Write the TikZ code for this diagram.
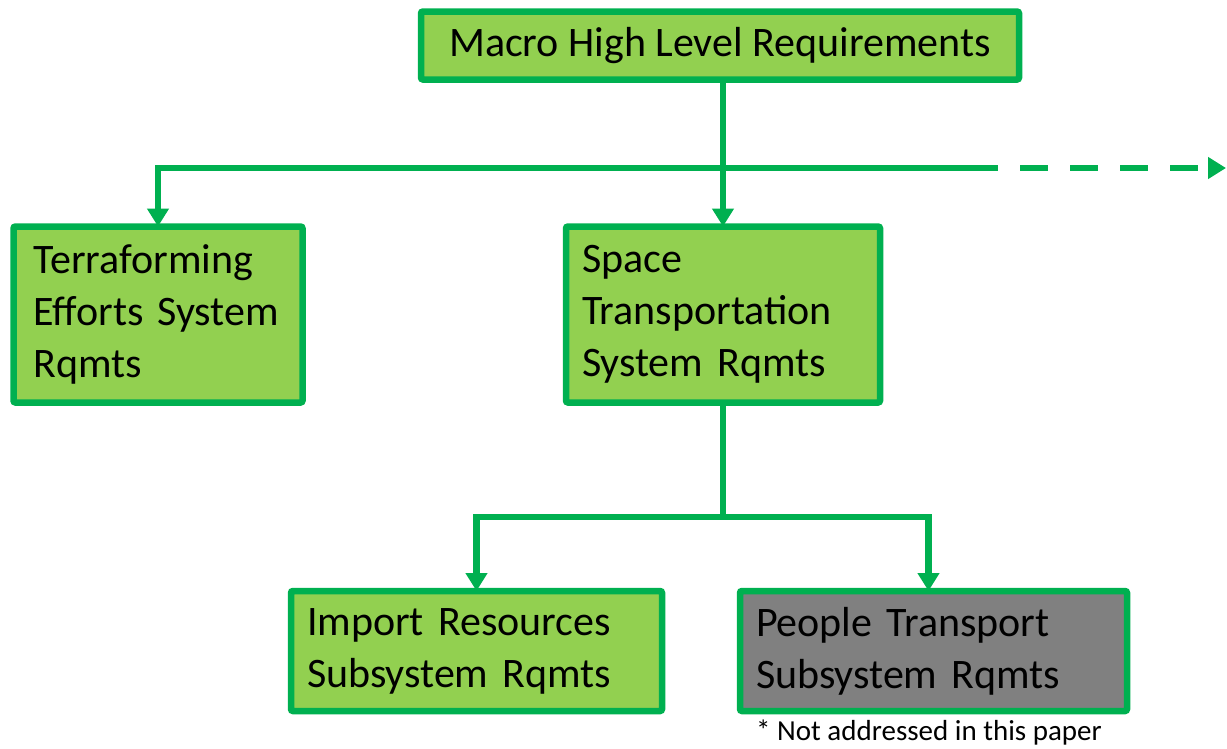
\documentclass[tikz,border=0pt]{standalone}
\usepackage{fontspec}
\setmainfont{Carlito}
\usetikzlibrary{arrows.meta}
\definecolor{edgegreen}{RGB}{0,176,80}
\definecolor{boxgreen}{RGB}{146,208,80}
\definecolor{boxgray}{RGB}{128,128,128}

\begin{document}
\begin{tikzpicture}[x=1pt,y=-1pt,
  reqbox/.style={draw=edgegreen, line width=6.5pt, fill=boxgreen, rounded corners=2pt,
    align=left, inner xsep=16pt, inner ysep=0pt, outer sep=0pt, anchor=north west,
    text=black, font=\fontsize{42}{52}\selectfont},
  link/.style={draw=edgegreen, line width=6.5pt},
  tip/.style={-{Triangle[length=18pt,width=21pt]}}
]
\useasboundingbox (0,0) rectangle (1227,748);

% requirement boxes
\node[reqbox, align=center, minimum width=598pt, minimum height=68pt] (top)
  at (421,11.5) {Macro High Level Requirements};
\node[reqbox, inner xsep=20pt, text width=249pt, minimum width=289pt, minimum height=176pt] (terra)
  at (13.5,226.5) {Terraforming\\Efforts~System\\Rqmts};
\node[reqbox, text width=282pt, minimum width=314pt, minimum height=176pt] (space)
  at (566,226.5) {Space\\Transportation\\System~Rqmts};
\node[reqbox, text width=339pt, minimum width=371pt, minimum height=120pt] (import)
  at (291,591) {Import~Resources\\Subsystem~Rqmts};
\node[reqbox, fill=boxgray, text width=355pt, minimum width=387pt, minimum height=120pt] (people)
  at (740,591) {People~Transport\\Subsystem~Rqmts};
\node[anchor=west, inner sep=0pt, font=\fontsize{29}{34}\selectfont] (note)
  at (756,733) {* Not addressed in this paper};

% branching points
\coordinate (fork) at (723,168);
\coordinate (solidend) at (998,168);
\coordinate (far) at (1226,168);
\coordinate (split) at (723,517);

% connectors
\draw[link,tip] (top.south -| space.north) -- (space.north);
\draw[link,tip] (fork) -| (terra.north);
\draw[link] (fork) -- (solidend);
\draw[link,tip,dash pattern=on 28pt off 22pt,dash phase=28pt] (solidend) -- (far);
\draw[link] (space.south) -- (split);
\draw[link,tip] (split) -| (import.north);
\draw[link,tip] (split) -| ([xshift=-5pt]people.north);
\end{tikzpicture}
\end{document}
